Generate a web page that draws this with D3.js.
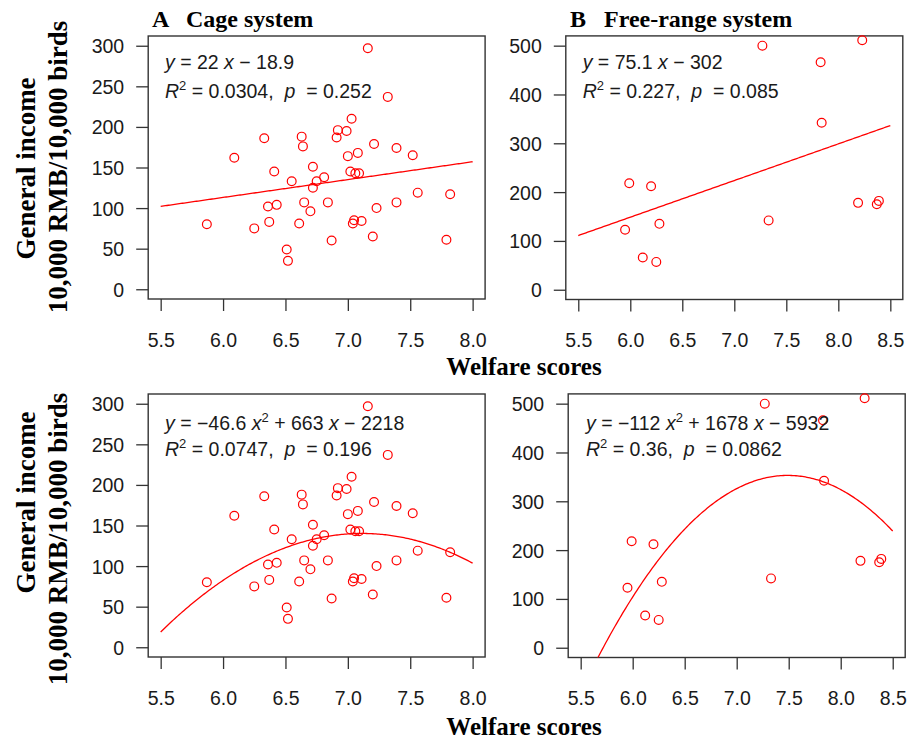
<!DOCTYPE html>
<html><head><meta charset="utf-8">
<script src="https://cdn.jsdelivr.net/npm/d3@7"></script>
<style>body{margin:0;background:#fff}</style>
</head><body>
<svg id="c" width="910" height="740"></svg>
<script>
// ---- data ----
const cageWelfare = [7.16,7.32,7.03,6.92,6.99,6.91,6.33,6.63,6.64,7.21,7.39,6.09,7.52,7.00,7.08,6.72,6.41,7.02,7.06,7.09,6.55,6.75,6.81,6.72,7.56,7.82,6.65,6.84,7.39,6.36,6.43,6.70,7.23,5.87,6.25,6.37,6.61,7.05,7.04,7.11,6.87,7.20,7.79,6.51,6.52];
const cageIncome  = [297,237,210,196,195,187,186,188,176,179,174,162,165,164,168,151,145,145,143,143,133,133,138,125,119,117,107,107,107,102,104,96,100,80,75,83,81,85,81,84,60,65,61,49,35];
const freeWelfare = [7.27,8.23,7.83,7.84,5.99,6.20,8.19,8.39,8.37,5.95,6.28,7.33,6.12,6.25];
const freeIncome  = [500,511,466,342,218,212,178,182,175,123,135,142,66,57];
const cageLinear = [22, -18.9];
const freeLinear = [75.1, -302];
const cageQuad = [-46.6, 663, -2218];
const freeQuad = [-112, 1678, -5932];
const cageXTicks = [5.5,6.0,6.5,7.0,7.5,8.0];
const freeXTicks = [5.5,6.0,6.5,7.0,7.5,8.0,8.5];
const cageYTicks = [0,50,100,150,200,250,300];
const freeYTicks = [0,100,200,300,400,500];
const titles = ["A   Cage system","B   Free-range system"];
const eqLines = [
  [[{t:"y",i:1},{t:" = 22 "},{t:"x",i:1},{t:" \u2212 18.9"}],
   [{t:"R",i:1},{t:"2",s:1},{t:" = 0.0304,  "},{t:"p",i:1},{t:"  = 0.252"}]],
  [[{t:"y",i:1},{t:" = 75.1 "},{t:"x",i:1},{t:" \u2212 302"}],
   [{t:"R",i:1},{t:"2",s:1},{t:" = 0.227,  "},{t:"p",i:1},{t:"  = 0.085"}]],
  [[{t:"y",i:1},{t:" = \u221246.6 "},{t:"x",i:1},{t:"2",s:1},{t:" + 663 "},{t:"x",i:1},{t:" \u2212 2218"}],
   [{t:"R",i:1},{t:"2",s:1},{t:" = 0.0747,  "},{t:"p",i:1},{t:"  = 0.196"}]],
  [[{t:"y",i:1},{t:" = \u2212112 "},{t:"x",i:1},{t:"2",s:1},{t:" + 1678 "},{t:"x",i:1},{t:" \u2212 5932"}],
   [{t:"R",i:1},{t:"2",s:1},{t:" = 0.36,  "},{t:"p",i:1},{t:"  = 0.0862"}]]
];

const svg = d3.select("#c");
const RED = "#ff0000", INK = "#1a1a1a", BOX = "#333";
const sans = "Liberation Sans, Arial, sans-serif";
const serif = "Liberation Serif, Times New Roman, serif";

const panels = [
  {xs:cageWelfare, ys:cageIncome, xd:[5.4,8.1], xr:[148.2,485.1], yd:[-12,312], yr:[299,36], xt:cageXTicks, yt:cageYTicks, fit:cageLinear, eq:eqLines[0], ex:165, eb:[68.5,97.5]},
  {xs:freeWelfare, ys:freeIncome, xd:[5.38,8.62], xr:[565.8,902.8], yd:[-20,520], yr:[299.5,35.9], xt:freeXTicks, yt:freeYTicks, fit:freeLinear, eq:eqLines[1], ex:582.7, eb:[69,97.5]},
  {xs:cageWelfare, ys:cageIncome, xd:[5.4,8.1], xr:[148.2,485.1], yd:[-12,312], yr:[657,394], xt:cageXTicks, yt:cageYTicks, fit:cageQuad, eq:eqLines[2], ex:165, eb:[429.5,455.5]},
  {xs:freeWelfare, ys:freeIncome, xd:[5.38,8.62], xr:[568.2,905.2], yd:[-20,520], yr:[657.5,393.9], xt:freeXTicks, yt:freeYTicks, fit:freeQuad, eq:eqLines[3], ex:586, eb:[430,456]}
];

const defs = svg.append("defs");
panels.forEach((p, k) => {
  const x = d3.scaleLinear().domain(p.xd).range(p.xr);
  const y = d3.scaleLinear().domain(p.yd).range(p.yr);
  const g = svg.append("g");
  const x0 = p.xr[0], x1 = p.xr[1], yTop = p.yr[1], yBot = p.yr[0];
  defs.append("clipPath").attr("id","clip"+k).append("rect")
    .attr("x",x0).attr("y",yTop).attr("width",x1-x0).attr("height",yBot-yTop);

  // axes
  const xa = g.append("g").attr("transform",`translate(0,${yBot})`)
    .call(d3.axisBottom(x).tickValues(p.xt).tickFormat(d3.format(".1f")).tickSize(12).tickPadding(22).tickSizeOuter(0));
  const ya = g.append("g").attr("transform",`translate(${x0},0)`)
    .call(d3.axisLeft(y).tickValues(p.yt).tickFormat(d3.format("d")).tickSize(12).tickPadding(12).tickSizeOuter(0));
  [xa, ya].forEach(a => {
    a.select(".domain").remove();
    a.selectAll(".tick line").attr("stroke",BOX).attr("stroke-width",1.3);
    a.selectAll(".tick text").attr("fill",INK).style("font-family",sans).style("font-size","19.5px");
  });
  ya.selectAll(".tick text").attr("dy","0.36em");

  // box
  g.append("rect").attr("x",x0).attr("y",yTop).attr("width",x1-x0).attr("height",yBot-yTop)
    .attr("fill","none").attr("stroke",BOX).attr("stroke-width",1.4);

  // fit line
  const coef = p.fit;
  const f = coef.length === 2 ? (v => coef[0]*v + coef[1]) : (v => coef[0]*v*v + coef[1]*v + coef[2]);
  const xmin = p.xt[0], xmax = p.xt[p.xt.length-1];
  const xsLine = d3.range(0, 201).map(i => xmin + (xmax - xmin) * i / 200);
  g.append("path").attr("clip-path",`url(#clip${k})`)
    .attr("d", d3.line().x(v => x(v)).y(v => y(f(v)))(xsLine))
    .attr("fill","none").attr("stroke",RED).attr("stroke-width",1.3);

  // points
  g.selectAll("circle.pt").data(p.xs.map((v,i)=>[v,p.ys[i]])).join("circle")
    .attr("class","pt").attr("cx",d=>x(d[0])).attr("cy",d=>y(d[1])).attr("r",4.4)
    .attr("fill","none").attr("stroke",RED).attr("stroke-width",1.2);

  // equation text
  p.eq.forEach((line, li) => {
    const t = g.append("text").attr("x",p.ex).attr("y",p.eb[li])
      .style("font-family",sans).style("font-size","19.5px").attr("fill",INK).attr("xml:space","preserve");
    let raised = false;
    line.forEach(seg => {
      const ts = t.append("tspan").text(seg.t);
      if (seg.i) ts.style("font-style","italic");
      if (seg.s) { ts.attr("dy",-8).style("font-size","13px"); raised = true; }
      else if (raised) { ts.attr("dy",8); raised = false; }
    });
  });
});

// titles
svg.append("text").attr("x",152).attr("y",27).text(titles[0])
  .style("font-family",serif).style("font-weight","bold").style("font-size","24px").attr("fill","#000").attr("xml:space","preserve");
svg.append("text").attr("x",570).attr("y",27).text(titles[1])
  .style("font-family",serif).style("font-weight","bold").style("font-size","24px").attr("fill","#000").attr("xml:space","preserve");

// x labels
[375, 735].forEach(yy => {
  svg.append("text").attr("x",524).attr("y",yy).attr("text-anchor","middle").text("Welfare scores")
    .style("font-family",serif).style("font-weight","bold").style("font-size","25px").attr("fill","#000");
});
// y labels
[[35,168.5,67,167],[35,502.5,67,539]].forEach(([xa,ya,xb,yb]) => {
  svg.append("text").attr("transform",`translate(${xa},${ya}) rotate(-90)`).attr("text-anchor","middle")
    .text("General income").style("font-family",serif).style("font-weight","bold").style("font-size","27px").attr("fill","#000");
  svg.append("text").attr("transform",`translate(${xb},${yb}) rotate(-90)`).attr("text-anchor","middle")
    .text("10,000 RMB/10,000 birds").style("font-family",serif).style("font-weight","bold").style("font-size","27px").attr("fill","#000");
});
</script>
</body></html>
